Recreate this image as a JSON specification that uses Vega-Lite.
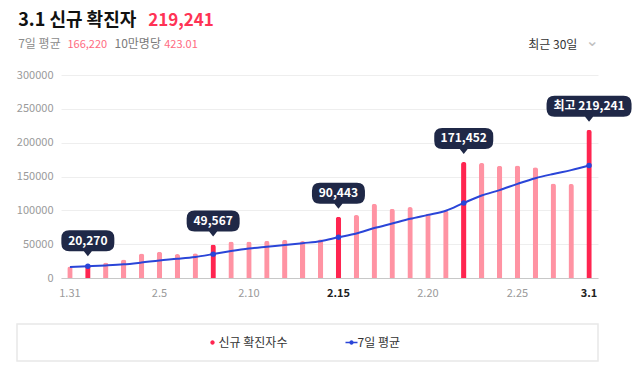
{
  "$schema": "https://vega.github.io/schema/vega-lite/v6.json",
  "padding": {"left": 16, "top": 11, "right": 4, "bottom": 4},
  "spacing": 25,
  "config": {"font": "Noto Sans CJK KR", "view": {"stroke": null}},
  "resolve": {"scale": {"x": "independent", "y": "independent", "shape": "independent", "color": "independent", "stroke": "independent"}},
  "datasets": {
    "daily": [
      {"d": "1.31", "v": 17079, "avg": 16302},
      {"d": "2.1", "v": 20270, "avg": 17339, "label": "20,270"},
      {"d": "2.2", "v": 22907, "avg": 18538},
      {"d": "2.3", "v": 27443, "avg": 20159},
      {"d": "2.4", "v": 36362, "avg": 22847},
      {"d": "2.5", "v": 38691, "avg": 25871},
      {"d": "2.6", "v": 35286, "avg": 28291},
      {"d": "2.7", "v": 36719, "avg": 31097},
      {"d": "2.8", "v": 49567, "avg": 35282, "label": "49,567"},
      {"d": "2.9", "v": 54122, "avg": 39741},
      {"d": "2.10", "v": 53926, "avg": 43525},
      {"d": "2.11", "v": 54941, "avg": 46179},
      {"d": "2.12", "v": 56431, "avg": 48713},
      {"d": "2.13", "v": 54619, "avg": 51475},
      {"d": "2.14", "v": 57177, "avg": 54398},
      {"d": "2.15", "v": 90443, "avg": 60237, "label": "90,443"},
      {"d": "2.16", "v": 93135, "avg": 65810},
      {"d": "2.17", "v": 109831, "avg": 73797},
      {"d": "2.18", "v": 102211, "avg": 80550},
      {"d": "2.19", "v": 104829, "avg": 87464},
      {"d": "2.20", "v": 95362, "avg": 93284},
      {"d": "2.21", "v": 99573, "avg": 99341},
      {"d": "2.22", "v": 171452, "avg": 110913, "label": "171,452"},
      {"d": "2.23", "v": 170016, "avg": 121896},
      {"d": "2.24", "v": 165890, "avg": 129905},
      {"d": "2.25", "v": 166209, "avg": 139047},
      {"d": "2.26", "v": 163566, "avg": 147438},
      {"d": "2.27", "v": 139626, "avg": 153762},
      {"d": "2.28", "v": 138993, "avg": 159393},
      {"d": "3.1", "v": 219241, "avg": 166220, "label": "최고 219,241"}
    ],
    "legend": [{"series": "신규 확진자수"}, {"series": "7일 평균"}]
  },
  "vconcat": [
    {
      "width": 581,
      "height": 203,
      "data": {"name": "daily"},
      "resolve": {"axis": {"x": "independent", "y": "independent"}},
      "layer": [
        {
          "mark": {"type": "bar", "cornerRadiusEnd": 2.5, "opacity": 1},
          "encoding": {
            "x": {
              "field": "d", "type": "ordinal", "sort": null,
              "scale": {"domain": ["1.31","2.1","2.2","2.3","2.4","2.5","2.6","2.7","2.8","2.9","2.10","2.11","2.12","2.13","2.14","2.15","2.16","2.17","2.18","2.19","2.20","2.21","2.22","2.23","2.24","2.25","2.26","2.27","2.28","3.1"], "range": [44, 581], "paddingInner": 0.7, "paddingOuter": 0.35},
              "axis": {
                "orient": "bottom", "labelAngle": 0, "labelOverlap": false, "ticks": false, "tickSize": 0, "grid": false,
                "labelExpr": "indexof(['1.31','2.5','2.10','2.15','2.20','2.25','3.1'], datum.value) >= 0 ? datum.value : ''",
                "labelFontSize": 11, "labelPadding": 9,
                "labelColor": {"condition": {"test": "datum.value == '2.15' || datum.value == '3.1'", "value": "#222222"}, "value": "#9a9a9a"},
                "labelFontWeight": {"condition": {"test": "datum.value == '2.15' || datum.value == '3.1'", "value": "bold"}, "value": "normal"},
                "domainColor": "#c8c8c8", "domainWidth": 1,
                "title": "최근 30일", "titleX": 510.7, "titleY": -229.5, "titleAngle": 0, "titleAlign": "left", "titleBaseline": "alphabetic",
                "titleFontSize": 12, "titleFontWeight": "normal", "titleColor": "#333333", "titleLimit": 800
              }
            },
            "y": {
              "field": "v", "type": "quantitative",
              "scale": {"domain": [0, 300000], "nice": false},
              "axis": {
                "orient": "left", "offset": -44, "values": [0, 50000, 100000, 150000, 200000, 250000, 300000], "format": "d",
                "labelColor": "#9a9a9a", "labelFontSize": 11, "labelPadding": 8, "ticks": false, "domain": false,
                "gridColor": "#eeeeee",
                "title": "3.1 신규 확진자", "titleX": -43.3, "titleY": -50, "titleAngle": 0, "titleAlign": "left", "titleBaseline": "alphabetic",
                "titleFontSize": 18, "titleFontWeight": "bold", "titleColor": "#111111", "titleLimit": 800
              }
            },
            "color": {"condition": {"test": "isValid(datum.label)", "value": "#ff2550"}, "value": "#ff93a3"}
          }
        },
        {
          "mark": {"type": "line", "interpolate": "monotone", "color": "#2a45d8", "strokeWidth": 2},
          "encoding": {
            "x": {
              "field": "d", "type": "ordinal", "sort": null,
              "axis": {"orient": "top", "labels": false, "ticks": false, "domain": false, "grid": false,
                "title": "7일 평균", "titleX": 0.7, "titleY": -27.5, "titleAngle": 0, "titleAlign": "left", "titleBaseline": "alphabetic",
                "titleFontSize": 12, "titleFontWeight": "normal", "titleColor": "#8c8c8c", "titleLimit": 800}
            },
            "y": {
              "field": "avg", "type": "quantitative", "scale": {"domain": [0, 300000], "nice": false},
              "axis": {"orient": "left", "labels": false, "ticks": false, "domain": false, "grid": false,
                "title": "219,241", "titleX": 130.7, "titleY": -50, "titleAngle": 0, "titleAlign": "left", "titleBaseline": "alphabetic",
                "titleFontSize": 17, "titleFontWeight": "bold", "titleColor": "#ff3355", "titleLimit": 800}
            }
          }
        },
        {
          "transform": [{"filter": "isValid(datum.label)"}],
          "mark": {"type": "point", "filled": true, "size": 30, "color": "#2a45d8", "opacity": 1},
          "encoding": {
            "x": {
              "field": "d", "type": "ordinal", "sort": null,
              "axis": {"orient": "top", "labels": false, "ticks": false, "domain": false, "grid": false,
                "title": "10만명당", "titleX": 97, "titleY": -27.5, "titleAngle": 0, "titleAlign": "left", "titleBaseline": "alphabetic",
                "titleFontSize": 12, "titleFontWeight": "normal", "titleColor": "#7a7a7a", "titleLimit": 800}
            },
            "y": {
              "field": "avg", "type": "quantitative", "scale": {"domain": [0, 300000], "nice": false},
              "axis": {"orient": "left", "labels": false, "ticks": false, "domain": false, "grid": false,
                "title": "166,220", "titleX": 50, "titleY": -27.5, "titleAngle": 0, "titleAlign": "left", "titleBaseline": "alphabetic",
                "titleFontSize": 11, "titleFontWeight": "normal", "titleColor": "#ff6b81", "titleLimit": 800}
            }
          }
        },
        {
          "transform": [{"filter": "isValid(datum.label)"}],
          "mark": {"type": "point", "filled": true, "size": 2916, "color": "#1f2847", "opacity": 1, "yOffset": -23.5, "strokeWidth": 0},
          "encoding": {
            "x": {
              "field": "d", "type": "ordinal", "sort": null,
              "axis": {"orient": "top", "labels": false, "ticks": false, "domain": false, "grid": false,
                "title": "⌄", "titleX": 568, "titleY": -29.5, "titleAngle": 0, "titleAlign": "left", "titleBaseline": "alphabetic",
                "titleFont": "DejaVu Sans", "titleFontSize": 16, "titleFontWeight": "normal", "titleColor": "#c0c0c0", "titleLimit": 800}
            },
            "y": {
              "field": "v", "type": "quantitative", "scale": {"domain": [0, 300000], "nice": false},
              "axis": {"orient": "left", "labels": false, "ticks": false, "domain": false, "grid": false,
                "title": "423.01", "titleX": 146.7, "titleY": -27.5, "titleAngle": 0, "titleAlign": "left", "titleBaseline": "alphabetic",
                "titleFontSize": 11, "titleFontWeight": "normal", "titleColor": "#ff6b81", "titleLimit": 800}
            },
            "shape": {
              "field": "label", "type": "nominal", "legend": null,
              "scale": {
                "domain": ["20,270", "49,567", "90,443", "171,452", "최고 219,241"],
                "range": [
                  "M-0.6852,-0.3889L0.6852,-0.3889Q0.9815,-0.3889,0.9815,-0.0926L0.9815,0.0926Q0.9815,0.3889,0.6852,0.3889L0.148,0.3889L0,0.5741L-0.148,0.3889L-0.6852,0.3889Q-0.9815,0.3889,-0.9815,0.0926L-0.9815,-0.0926Q-0.9815,-0.3889,-0.6852,-0.3889Z",
                  "M-0.6852,-0.3889L0.6852,-0.3889Q0.9815,-0.3889,0.9815,-0.0926L0.9815,0.0926Q0.9815,0.3889,0.6852,0.3889L0.148,0.3889L0,0.5741L-0.148,0.3889L-0.6852,0.3889Q-0.9815,0.3889,-0.9815,0.0926L-0.9815,-0.0926Q-0.9815,-0.3889,-0.6852,-0.3889Z",
                  "M-0.6852,-0.3889L0.6852,-0.3889Q0.9815,-0.3889,0.9815,-0.0926L0.9815,0.0926Q0.9815,0.3889,0.6852,0.3889L0.148,0.3889L0,0.5741L-0.148,0.3889L-0.6852,0.3889Q-0.9815,0.3889,-0.9815,0.0926L-0.9815,-0.0926Q-0.9815,-0.3889,-0.6852,-0.3889Z",
                  "M-0.7963,-0.3889L0.7963,-0.3889Q1.0926,-0.3889,1.0926,-0.0926L1.0926,0.0926Q1.0926,0.3889,0.7963,0.3889L0.148,0.3889L0,0.5741L-0.148,0.3889L-0.7963,0.3889Q-1.0926,0.3889,-1.0926,0.0926L-1.0926,-0.0926Q-1.0926,-0.3889,-0.7963,-0.3889Z",
                  "M-1.2778,-0.3889L1.2778,-0.3889Q1.5741,-0.3889,1.5741,-0.0926L1.5741,0.0926Q1.5741,0.3889,1.2778,0.3889L0.148,0.3889L0,0.5741L-0.148,0.3889L-1.2778,0.3889Q-1.5741,0.3889,-1.5741,0.0926L-1.5741,-0.0926Q-1.5741,-0.3889,-1.2778,-0.3889Z"
                ]
              }
            }
          }
        },
        {
          "transform": [{"filter": "isValid(datum.label)"}],
          "mark": {"type": "text", "color": "#ffffff", "fontWeight": "bold", "fontSize": 12, "baseline": "middle", "align": "center", "dy": -23.5},
          "encoding": {
            "x": {"field": "d", "type": "ordinal", "sort": null, "axis": null},
            "y": {"field": "v", "type": "quantitative", "scale": {"domain": [0, 300000], "nice": false}, "axis": null},
            "text": {"field": "label"}
          }
        }
      ]
    },
    {
      "width": 581,
      "height": 37,
      "view": {"stroke": "#e8e8e8", "strokeWidth": 1.5},
      "data": {"name": "legend"},
      "encoding": {
        "x": {"field": "series", "type": "nominal", "scale": {"type": "point", "domain": ["신규 확진자수", "7일 평균"], "range": [221, 360], "padding": 0}, "axis": null}
      },
      "layer": [
        {
          "mark": {"type": "point", "filled": true, "size": 144, "xOffset": -25.5, "strokeWidth": 1.4, "opacity": 1},
          "encoding": {
            "shape": {"field": "series", "type": "nominal", "legend": null,
              "scale": {"domain": ["신규 확진자수", "7일 평균"], "range": ["M-0.25,0A0.25,0.25,0,1,1,0.25,0A0.25,0.25,0,1,1,-0.25,0Z", "M-1,0L1,0M-0.25,0A0.25,0.25,0,1,1,0.25,0A0.25,0.25,0,1,1,-0.25,0Z"]}},
            "color": {"field": "series", "type": "nominal", "legend": null, "scale": {"domain": ["신규 확진자수", "7일 평균"], "range": ["#ff2550", "#2a45d8"]}},
            "stroke": {"field": "series", "type": "nominal", "legend": null, "scale": {"domain": ["신규 확진자수", "7일 평균"], "range": ["#ff2550", "#2a45d8"]}}
          }
        },
        {
          "mark": {"type": "text", "align": "left", "dx": -19.5, "baseline": "middle", "fontSize": 12, "color": "#333333"},
          "encoding": {"text": {"field": "series"}}
        }
      ]
    }
  ]
}
